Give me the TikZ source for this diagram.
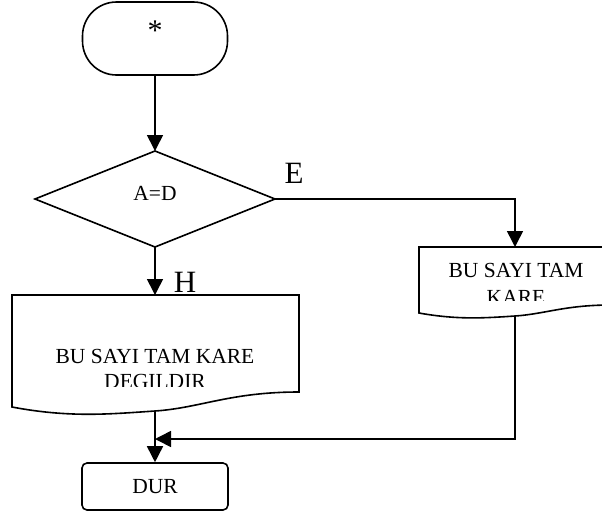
\documentclass[tikz,border=0pt]{standalone}
\usepackage{fontspec}
\setmainfont{Liberation Serif}
\usetikzlibrary{arrows.meta}
\begin{document}
\begin{tikzpicture}[x=1pt,y=-1pt,
  line width=1.6pt,
  flow/.style={-{Triangle[length=16pt,width=16pt]}},
  txt/.style={inner sep=0pt,font=\fontsize{21.5}{24}\selectfont},
  lbl/.style={inner sep=0pt,font=\fontsize{31}{33}\selectfont},
  shapebox/.style={draw=black,line width=1.6pt,fill=white}]
\useasboundingbox (0,0) rectangle (602,515);
\clip (0,0) rectangle (602,515);

% start terminal
\node[shapebox,minimum width=145pt,minimum height=73pt,rounded corners=34pt] (start) at (155,38.5) {};
\node[inner sep=0pt,font=\fontsize{30}{32}\selectfont] (star) at (155,31) {*};

% decision
\draw[shapebox,line join=miter] (155,151) coordinate (dtop) -- (275,199) coordinate (dright)
  -- (155,247) coordinate (dbot) -- (35,199) coordinate (dleft) -- cycle;
\node[txt] (cond) at (155,193) {A=D};

% left output document
\coordinate (ltop) at (155,295);
\coordinate (lbot) at (155,411);
\draw[shapebox] (12,295) -- (299,295) -- (299,392)
  .. controls (230,392) and (200,408) .. (lbot)
  .. controls (110,414) and (70,418) .. (12,407) -- cycle;
\begin{scope}
  \clip (12,295) rectangle (299,386);
  \node[txt,anchor=base] (l1) at (155,363) {BU SAYI TAM KARE};
  \node[txt,anchor=base] (l2) at (155,388) {DEGILDIR};
\end{scope}

% right output document
\coordinate (rtop) at (515,247);
\coordinate (rbot) at (515,316);
\draw[shapebox] (419,247) -- (611,247) -- (611,305)
  .. controls (565,305) and (545,314) .. (rbot)
  .. controls (485,318) and (458,320) .. (419,313) -- cycle;
\begin{scope}
  \clip (419,247) rectangle (611,300.7);
  \node[txt,anchor=base] (r1) at (516,277) {BU SAYI TAM};
  \node[txt,anchor=base] (r2) at (516,304) {KARE};
\end{scope}

% end terminal
\node[shapebox,minimum width=146pt,minimum height=47pt,rounded corners=5pt] (stop) at (155,486.5) {};
\node[txt] (stoptxt) at (155,487) {DUR};

% connectors
\coordinate (join) at (155,439);
\coordinate (rturn) at (515,439);
\draw[flow] (start.south) -- (dtop);
\draw[flow] (dbot) -- (ltop);
\draw[flow] (dright) -- (rtop |- dright) -- (rtop);
\draw[flow] (lbot) -- (stop.north);
\draw[flow] (rbot) -- (rturn) -- (join);

% branch labels
\node[lbl] (yes) at (294,173) {E};
\node[lbl] (no) at (185,282) {H};
\end{tikzpicture}
\end{document}
